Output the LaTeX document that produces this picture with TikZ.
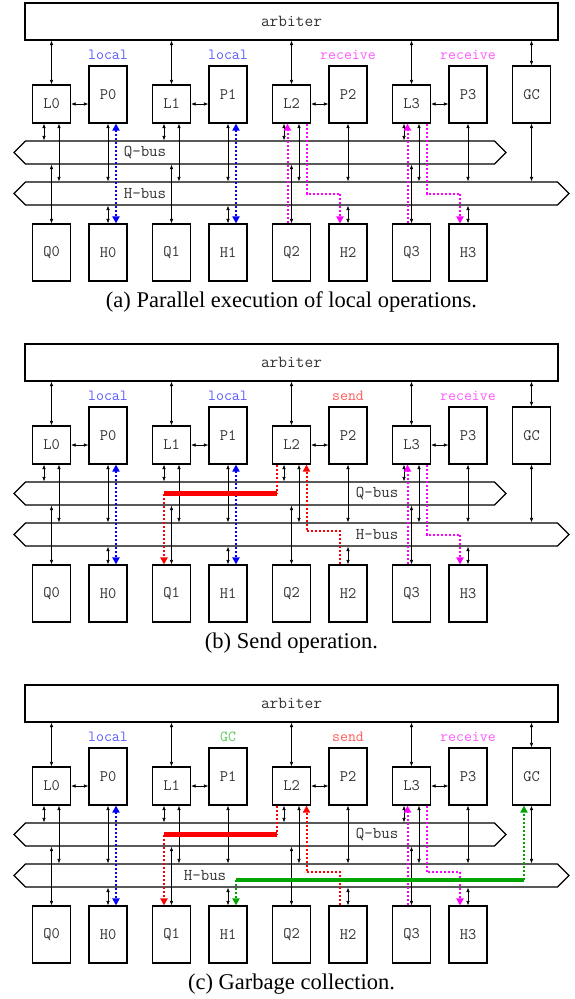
\documentclass[tikz,border=0pt]{standalone}
\usepackage{fontspec}
\newfontfamily\capfont{Liberation Serif}
\usetikzlibrary{arrows.meta, shapes.symbols}
\definecolor{localblue}{RGB}{90,90,255}
\definecolor{recvmagenta}{RGB}{255,90,255}
\definecolor{sendred}{RGB}{255,90,90}
\definecolor{gclabel}{RGB}{90,200,90}
\definecolor{gcgreen}{RGB}{0,165,0}
\definecolor{pathmagenta}{RGB}{255,0,255}
\definecolor{pathred}{RGB}{255,0,0}
\definecolor{pathblue}{RGB}{0,0,255}

\tikzset{
  unit/.style={rectangle, draw, line width=1.1pt, minimum width=38pt, inner sep=0pt, text=black!80, font=\fontsize{16}{18}\selectfont\ttfamily},
  lbox/.style={unit, minimum height=38pt},
  pbox/.style={unit, minimum height=57pt},
  bus/.style={signal, signal to=west and east, signal pointer angle=90, draw, line width=1.1pt, minimum height=23pt, inner sep=0pt},
  bustext/.style={text=black!80, font=\fontsize{16.5}{18}\selectfont\ttfamily},
  oplabel/.style={font=\fontsize{15.4}{17}\selectfont\ttfamily},
  link/.style={{Latex[length=4.5pt,width=3.5pt]}-{Latex[length=4.5pt,width=3.5pt]}, line width=0.6pt},
  route/.style={dotted, line width=2pt},
  tip/.style={-{Triangle[length=7pt,width=7pt]}},
  bothtips/.style={{Triangle[length=7pt,width=7pt]}-{Triangle[length=7pt,width=7pt]}},
  caption/.style={font=\capfont\fontsize{22.5}{25}\selectfont}
}

\begin{document}
\begin{tikzpicture}[x=1pt, y=-1pt]
\useasboundingbox (0,0) rectangle (574,999);

% the three panels share the same hardware
\foreach \s/\oy in {a/0, b/341, c/682}{
  \begin{scope}[shift={(0,\oy)}]
    \node[unit, minimum width=533pt, minimum height=37pt, font=\fontsize{16.9}{18}\selectfont\ttfamily] (arb\s) at (291.5,21.5) {arbiter};
    \node[bus, minimum width=492pt] (qbus\s) at (260,152.5) {};
    \node[bus, minimum width=555pt] (hbus\s) at (291.5,193.5) {};
    \foreach \i in {0,...,3}{
      \node[lbox] (L\i\s) at (51.5+120*\i,104) {L\i};
      \node[pbox] (P\i\s) at (108+120*\i,94.5) {P\i};
      \node[pbox] (Q\i\s) at (51.5+120*\i,252.5) {Q\i};
      \node[pbox] (H\i\s) at (108+120*\i,252.5) {H\i};
      \draw[link] (arb\s.south -| L\i\s.north) -- (L\i\s.north);
      \draw[link] (L\i\s.east) -- (P\i\s.west |- L\i\s.east);
      \draw[link] ([xshift=-7.5pt]L\i\s.south) -- ([xshift=-7.5pt]L\i\s.south |- qbus\s.north);
      \draw[link] ([xshift=7.5pt]L\i\s.south) -- ([xshift=7.5pt]L\i\s.south |- hbus\s.north);
      \draw[link] (Q\i\s.north |- qbus\s.south) -- (Q\i\s.north);
      \draw[link] (P\i\s.south) -- (P\i\s.south |- hbus\s.north);
      \draw[link] (H\i\s.north |- hbus\s.south) -- (H\i\s.north);
    }
    \node[pbox] (GC\s) at (531.5,94.5) {GC};
    \draw[link] (arb\s.south -| GC\s.north) -- (GC\s.north);
    \draw[link] (GC\s.south) -- (GC\s.south |- hbus\s.north);
  \end{scope}
}

% (a) local operations
\node[oplabel, text=localblue] (opa0) at (108,55) {local};
\node[oplabel, text=localblue] (opa1) at (228,55) {local};
\node[oplabel, text=recvmagenta] (opa2) at (348,55) {receive};
\node[oplabel, text=recvmagenta] (opa3) at (468,55) {receive};
\node[bustext] (qtexta) at (145,152.5) {Q-bus};
\node[bustext] (htexta) at (145,193.5) {H-bus};
\draw[route, pathblue, bothtips] ([xshift=8pt]P0a.south) -- ([xshift=8pt]H0a.north);
\draw[route, pathblue, bothtips] ([xshift=8pt]P1a.south) -- ([xshift=8pt]H1a.north);
\draw[route, pathmagenta, tip] ([xshift=-4pt]Q2a.north) -- ([xshift=-4pt]L2a.south);
\draw[route, pathmagenta, tip] ([xshift=15pt]L2a.south) -- ([xshift=15pt]L2a.south |- hbusa.center) -| ([xshift=-8pt]H2a.north);
\draw[route, pathmagenta, tip] ([xshift=-4pt]Q3a.north) -- ([xshift=-4pt]L3a.south);
\draw[route, pathmagenta, tip] ([xshift=15pt]L3a.south) -- ([xshift=15pt]L3a.south |- hbusa.center) -| ([xshift=-8pt]H3a.north);
\node[caption] (capa) at (291.5,302) {(a) Parallel execution of local operations.};

% (b) send
\node[oplabel, text=localblue] (opb0) at (108,396) {local};
\node[oplabel, text=localblue] (opb1) at (228,396) {local};
\node[oplabel, text=sendred] (opb2) at (348,396) {send};
\node[oplabel, text=recvmagenta] (opb3) at (468,396) {receive};
\node[bustext] (qtextb) at (377,493.5) {Q-bus};
\node[bustext] (htextb) at (377,534.5) {H-bus};
\draw[route, pathblue, bothtips] ([xshift=8pt]P0b.south) -- ([xshift=8pt]H0b.north);
\draw[route, pathblue, bothtips] ([xshift=8pt]P1b.south) -- ([xshift=8pt]H1b.north);
\coordinate (sendb1) at ([xshift=-15pt]L2b.south |- qbusb.center);
\coordinate (sendb2) at ([xshift=-7.5pt]Q1b.north |- qbusb.center);
\draw[route, pathred] ([xshift=-15pt]L2b.south) -- (sendb1);
\draw[pathred, line width=4.5pt] (sendb1) -- (sendb2);
\draw[route, pathred, tip] (sendb2) -- ([xshift=-7.5pt]Q1b.north);
\draw[route, pathred, tip] ([xshift=-8pt]H2b.north) -- ([xshift=-8pt, yshift=3.5pt]H2b.north |- hbusb.center) -| ([xshift=15pt]L2b.south);
\draw[route, pathmagenta, tip] ([xshift=-4pt]Q3b.north) -- ([xshift=-4pt]L3b.south);
\draw[route, pathmagenta, tip] ([xshift=15pt]L3b.south) -- ([xshift=15pt]L3b.south |- hbusb.center) -| ([xshift=-8pt]H3b.north);
\node[caption] (capb) at (291.5,643) {(b) Send operation.};

% (c) garbage collection
\node[oplabel, text=localblue] (opc0) at (108,737) {local};
\node[oplabel, text=gclabel] (opc1) at (228,737) {GC};
\node[oplabel, text=sendred] (opc2) at (348,737) {send};
\node[oplabel, text=recvmagenta] (opc3) at (468,737) {receive};
\node[bustext] (qtextc) at (377,834.5) {Q-bus};
\node[bustext] (htextc) at (205,875.5) {H-bus};
\draw[route, pathblue, bothtips] ([xshift=8pt]P0c.south) -- ([xshift=8pt]H0c.north);
\coordinate (sendc1) at ([xshift=-15pt]L2c.south |- qbusc.center);
\coordinate (sendc2) at ([xshift=-7.5pt]Q1c.north |- qbusc.center);
\draw[route, pathred] ([xshift=-15pt]L2c.south) -- (sendc1);
\draw[pathred, line width=4.5pt] (sendc1) -- (sendc2);
\draw[route, pathred, tip] (sendc2) -- ([xshift=-7.5pt]Q1c.north);
\draw[route, pathred, tip] ([xshift=-8pt]H2c.north) -- ([xshift=-8pt, yshift=3.5pt]H2c.north |- hbusc.center) -| ([xshift=15pt]L2c.south);
\draw[route, pathmagenta, tip] ([xshift=-4pt]Q3c.north) -- ([xshift=-4pt]L3c.south);
\draw[route, pathmagenta, tip] ([xshift=15pt]L3c.south) -- ([xshift=15pt, yshift=3.5pt]L3c.south |- hbusc.center) -| ([xshift=-8pt]H3c.north);
\coordinate (gcc1) at ([xshift=8pt, yshift=-4pt]H1c.north |- hbusc.center);
\coordinate (gcc2) at ([xshift=-7.5pt, yshift=-4pt]GCc.south |- hbusc.center);
\draw[route, gcgreen, tip] (gcc1) -- ([xshift=8pt]H1c.north);
\draw[gcgreen, line width=4pt] (gcc1) -- (gcc2);
\draw[route, gcgreen, tip] (gcc2) -- ([xshift=-7.5pt]GCc.south);
\node[caption] (capc) at (291.5,984) {(c) Garbage collection.};
\end{tikzpicture}
\end{document}
